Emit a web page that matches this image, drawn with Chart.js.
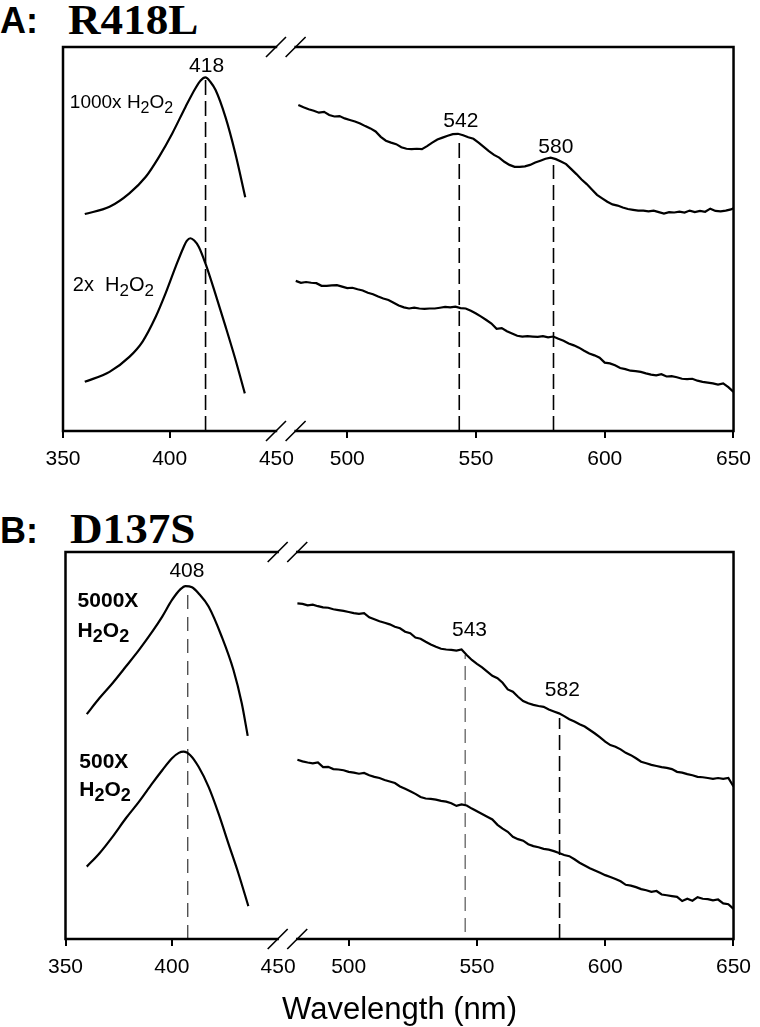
<!DOCTYPE html>
<html>
<head>
<meta charset="utf-8">
<script src="https://cdn.jsdelivr.net/npm/chart.js@4/dist/chart.umd.min.js"></script>
<style>
  html, body { margin: 0; padding: 0; background: #fff; width: 760px; height: 1027px; overflow: hidden; }
  .t { position: absolute; white-space: nowrap; color: #000; line-height: 1; transform-origin: left top; }
  .tag { font: bold 36px "Liberation Sans", Arial, sans-serif; }
  .mut { font: bold 43px "Liberation Serif", "Times New Roman", serif; transform: scaleX(1.05); }
  canvas { position: absolute; left: 0; }
</style>
</head>
<body>
<div class="t tag" style="left:0; top:0px">A:</div>
<div class="t mut" style="left:68px; top:-5px">R418L</div>
<div class="t tag" style="left:0; top:510px">B:</div>
<div class="t mut" style="left:70px; top:504px">D137S</div>
<canvas id="panelA" width="760" height="480" style="top:0"></canvas>
<canvas id="panelB" width="760" height="530" style="top:505px"></canvas>
<script>
// Two UV-vis panels on a broken wavelength axis (Soret | Q-band region).
// Absorbance is in arbitrary units (0-100 of the plot height); no y ticks.

const SANS = '"Liberation Sans", Arial, sans-serif';

// ---- axis ----
const tickWl = [350, 400, 450, 500, 550, 600, 650];

// ---- panel A: R418L, Soret region ----
const aTopSoretWl = [360.2, 371.8, 381.1, 388.8, 395.0, 401.2, 407.4, 412.0, 414.5, 416.7, 419.1, 421.5, 426.1, 430.7, 435.4];
const aTopSoret = [56.5, 58.4, 61.9, 66.2, 71.4, 77.5, 84.4, 89.2, 91.3, 92.1, 90.9, 88.8, 81.8, 72.4, 60.9];
const aLowSoretWl = [360.2, 371.8, 381.1, 387.3, 393.5, 398.1, 402.8, 406.6, 408.0, 409.7, 411.5, 413.6, 416.7, 421.3, 426.0, 430.6, 435.2];
const aLowSoret = [12.8, 15.4, 19.3, 23.3, 29.8, 35.9, 42.8, 48.0, 49.5, 50.2, 49.6, 48.0, 43.7, 35.9, 27.5, 19.0, 9.8];

// ---- panel A: Q-band region ----
const aTopQWl = [481, 483, 485, 487, 489, 491, 493, 495, 497, 499,
  501, 503, 505, 507, 509, 511, 513, 515, 517, 519,
  521, 523, 525, 527, 529, 531, 533, 535, 537, 539,
  541, 543, 545, 547, 549, 551, 553, 555, 557, 559,
  561, 563, 565, 567, 569, 571, 573, 575, 577, 579,
  581, 583, 585, 587, 589, 591, 593, 595, 597, 599,
  601, 603, 605, 607, 609, 611, 613, 615, 617, 619,
  621, 623, 625, 627, 629, 631, 633, 635, 637, 639,
  641, 643, 645, 647, 649, 650];
const aTopQ = [84.9, 84.3, 83.8, 83.4, 82.9, 83.1, 82.3, 81.9, 82.0, 81.4,
  81.0, 80.6, 80.1, 79.4, 78.8, 78.0, 76.6, 75.6, 75.1, 74.7,
  73.9, 73.5, 73.4, 73.5, 73.4, 74.2, 75.1, 75.9, 76.4, 76.9,
  77.3, 77.4, 77.0, 76.5, 76.1, 75.1, 74.0, 72.9, 71.9, 71.2,
  70.1, 69.3, 68.8, 68.8, 68.9, 69.3, 69.9, 70.4, 70.9, 71.2,
  70.8, 70.2, 69.5, 68.2, 66.9, 65.5, 64.3, 62.9, 61.5, 60.6,
  59.7, 59.0, 58.7, 58.2, 57.8, 57.6, 57.4, 57.4, 57.2, 57.4,
  57.0, 56.6, 57.0, 56.9, 57.1, 56.9, 57.4, 57.0, 57.3, 57.1,
  57.9, 57.3, 57.2, 57.4, 57.7, 58.0];

const qWl = [480, 482, 484, 486, 488, 490, 492, 494, 496, 498,
  500, 502, 504, 506, 508, 510, 512, 514, 516, 518,
  520, 522, 524, 526, 528, 530, 532, 534, 536, 538,
  540, 542, 544, 546, 548, 550, 552, 554, 556, 558,
  560, 562, 564, 566, 568, 570, 572, 574, 576, 578,
  580, 582, 584, 586, 588, 590, 592, 594, 596, 598,
  600, 602, 604, 606, 608, 610, 612, 614, 616, 618,
  620, 622, 624, 626, 628, 630, 632, 634, 636, 638,
  640, 642, 644, 646, 648, 650];
const aLowQ = [39.1, 38.6, 38.8, 38.6, 38.5, 37.8, 37.8, 37.9, 38.0, 37.6,
  37.2, 37.3, 36.9, 36.6, 36.0, 35.6, 35.0, 34.5, 34.1, 33.4,
  32.7, 32.2, 31.9, 32.1, 31.9, 31.8, 31.9, 31.9, 32.1, 32.3,
  32.2, 32.4, 32.0, 31.9, 31.3, 30.6, 29.8, 28.9, 28.0, 26.6,
  26.8, 26.0, 25.4, 24.8, 24.6, 24.7, 24.6, 24.5, 24.7, 24.4,
  24.6, 24.0, 23.5, 22.8, 22.3, 21.7, 20.9, 20.2, 19.7, 19.1,
  17.8, 17.6, 17.1, 16.4, 16.1, 15.7, 15.6, 15.4, 15.0, 14.7,
  14.5, 14.8, 14.2, 14.3, 14.0, 13.6, 13.5, 13.6, 13.1, 12.8,
  12.6, 12.4, 12.1, 12.4, 11.4, 10.2];

// ---- panel B: D137S ----
const bTopSoretWl = [360.0, 365.9, 372.1, 378.4, 384.6, 390.8, 395.5, 400.1, 404.1, 406.4, 409.5, 412.6, 417.3, 423.5, 429.0, 432.9, 435.7];
const bTopSoret = [58.1, 62.2, 66.1, 70.4, 74.7, 79.4, 83.3, 87.6, 90.4, 91.2, 90.9, 89.3, 85.9, 78.1, 69.5, 60.9, 52.5];
const bLowSoretWl = [360.0, 365.9, 372.1, 378.4, 384.6, 390.8, 395.5, 400.1, 403.3, 405.6, 408.7, 412.6, 417.3, 422.0, 426.6, 431.3, 436.0];
const bLowSoret = [18.7, 22.1, 26.4, 31.2, 35.5, 40.2, 43.6, 46.7, 48.1, 48.4, 47.5, 44.5, 39.3, 32.4, 24.7, 17.0, 8.5];

const bTopQ = [86.7, 86.6, 86.2, 86.4, 86.0, 85.7, 85.6, 85.2, 85.0, 84.8,
  84.5, 84.2, 84.0, 84.2, 83.1, 82.6, 82.1, 81.7, 81.3, 80.7,
  80.3, 79.4, 79.0, 77.9, 77.6, 76.8, 76.1, 75.5, 75.0, 74.8,
  74.7, 74.5, 74.8, 73.4, 72.1, 71.1, 70.2, 69.1, 68.0, 67.4,
  66.2, 64.5, 63.9, 62.6, 61.5, 60.9, 60.5, 60.2, 60.0, 59.3,
  58.8, 58.3, 57.6, 56.8, 56.2, 55.5, 54.9, 54.0, 53.1, 52.1,
  51.0, 50.1, 49.7, 49.0, 48.1, 47.5, 46.7, 45.8, 45.4, 45.0,
  44.7, 44.4, 44.2, 43.9, 43.2, 43.0, 42.6, 42.3, 41.9, 41.8,
  41.6, 41.4, 41.6, 41.4, 41.6, 39.4];
const bLowQ = [46.3, 45.9, 45.6, 45.4, 45.6, 44.4, 44.5, 43.9, 43.8, 43.6,
  43.2, 43.0, 42.7, 42.9, 42.3, 41.9, 41.6, 41.1, 40.7, 40.3,
  39.4, 38.8, 38.2, 37.5, 36.7, 36.3, 36.2, 36.0, 35.7, 35.5,
  35.1, 34.4, 34.8, 34.5, 33.7, 33.0, 32.3, 31.6, 30.9, 29.5,
  28.5, 27.7, 26.4, 25.8, 25.4, 24.5, 24.0, 23.7, 23.3, 23.1,
  22.7, 22.2, 21.7, 21.4, 20.6, 19.7, 19.0, 18.3, 17.7, 17.1,
  16.5, 16.0, 15.5, 14.9, 14.0, 13.8, 13.4, 12.9, 12.6, 12.2,
  12.4, 11.5, 11.3, 11.1, 10.9, 9.8, 10.4, 9.9, 10.8, 10.4,
  10.3, 10.0, 10.2, 9.2, 9.0, 7.8];

// ---- peak markers (dashed drop lines) and labels ----
const aMarkWl = [416.8, 543.5, 580.1];
const aMarkTop = [91.4, 76.3, 69.3];
const aPeakText = ['418', '542', '580'];
const aPeakWl = [417.3, 544.1, 581.0];
const aPeakVal = [93.6, 79.2, 72.4];
const aDoseText = ['1000x H_2O_2', '2x  H_2O_2'];
const aDoseWl = [353.2, 354.6];
const aDoseVal = [84.0, 36.5];

const bMarkWl = [407.5, 545.4, 582.2];
const bMarkTop = [90.7, 73.4, 57.1];
const bMarkBottom = [0, 1.8, 0];
const bPeakText = ['408', '543', '582'];
const bPeakWl = [407.1, 547.1, 583.3];
const bPeakVal = [93.5, 78.3, 62.8];
const bDoseText = ['5000X', 'H_2O_2', '500X', 'H_2O_2'];
const bDoseWl = [355.7, 355.7, 356.5, 356.5];
const bDoseVal = [85.9, 78.1, 44.1, 37.0];

// Broken axis: 350-450 at native scale, 500-650 squeezed in after the break.
const BREAK_U = [449.8, 459.0];
const U_MAX = 664.2;
const toU = (wl) => (wl <= 455 ? wl : 483.2 + (wl - 500) * 1.2065);
const pts = (wls, vals) => wls.map((w, i) => ({ x: toU(w), y: vals[i] }));

const curve = (wls, vals, smooth) => ({
  data: pts(wls, vals), borderColor: '#000', borderWidth: 2.2, pointRadius: 0, fill: false,
  tension: 0, cubicInterpolationMode: smooth ? 'monotone' : 'default',
});
const dropLine = (wl, top, bottom, color, width, dash) => ({
  data: pts([wl, wl], [bottom, top]), borderColor: color, borderWidth: width,
  borderDash: dash, pointRadius: 0, fill: false,
});

// "H_2O_2" -> runs with subscripted digits
function runs(text) {
  const out = [];
  text.split(/(_\d)/).forEach((p) => {
    if (!p) return;
    if (p[0] === '_') out.push({ t: p.slice(1), sub: true });
    else out.push({ t: p, sub: false });
  });
  return out;
}

const notesPlugin = {
  id: 'notes',
  afterDatasetsDraw(chart, args, opts) {
    const { ctx, scales: { x, y } } = chart;
    ctx.save();
    ctx.fillStyle = '#000';
    ctx.textBaseline = 'alphabetic';
    for (const n of opts.items) {
      const parts = runs(n.text);
      const font = (p) => `${n.weight} ${p.sub ? Math.round(n.size * 0.86) : n.size}px ${SANS}`;
      let w = 0;
      for (const p of parts) { ctx.font = font(p); w += ctx.measureText(p.t).width; }
      let px = x.getPixelForValue(toU(n.wl));
      if (n.align === 'center') px -= w / 2;
      const py = y.getPixelForValue(n.val);
      for (const p of parts) {
        ctx.font = font(p);
        ctx.fillText(p.t, px, p.sub ? py + 5 : py);
        px += ctx.measureText(p.t).width;
      }
    }
    ctx.restore();
  },
};

// Box frame with the axis-break slashes on top and bottom.
const framePlugin = {
  id: 'frame',
  afterDraw(chart) {
    const { ctx, chartArea: a, scales: { x } } = chart;
    const b1 = x.getPixelForValue(BREAK_U[0]);
    const b2 = x.getPixelForValue(BREAK_U[1]);
    ctx.save();
    ctx.strokeStyle = '#000';
    ctx.lineWidth = 2.5;
    ctx.lineCap = 'square';
    ctx.beginPath();
    ctx.moveTo(a.left, a.top); ctx.lineTo(a.left, a.bottom);
    ctx.moveTo(a.right, a.top); ctx.lineTo(a.right, a.bottom);
    for (const yy of [a.top, a.bottom]) {
      ctx.moveTo(a.left, yy); ctx.lineTo(b1, yy);
      ctx.moveTo(b2, yy); ctx.lineTo(a.right, yy);
    }
    ctx.stroke();
    ctx.lineWidth = 1.6;
    ctx.lineCap = 'butt';
    ctx.beginPath();
    for (const yy of [a.top, a.bottom]) {
      for (const bx of [b1, b2]) { ctx.moveTo(bx - 10, yy + 10); ctx.lineTo(bx + 10, yy - 10); }
    }
    ctx.stroke();
    ctx.restore();
  },
};

function panel(id, datasets, notes, pad, axisH, title) {
  return new Chart(document.getElementById(id), {
    type: 'line',
    data: { datasets },
    options: {
      responsive: false,
      animation: false,
      devicePixelRatio: 1,
      layout: { padding: pad },
      plugins: { legend: { display: false }, tooltip: { enabled: false }, notes: { items: notes } },
      scales: {
        x: {
          type: 'linear', min: 350, max: U_MAX,
          afterBuildTicks: (s) => { s.ticks = tickWl.map((w) => ({ value: toU(w) })); },
          afterFit: (s) => { s.height = axisH; },
          ticks: {
            autoSkip: false, maxRotation: 0, padding: 9, color: '#000',
            font: { family: SANS, size: 21 },
            callback: (v, i) => String(tickWl[i]),
          },
          grid: {
            drawOnChartArea: false, drawTicks: true, tickLength: 7, lineWidth: 2,
            color: (c) => (c.tick && c.tick.value === 450 ? 'rgba(0,0,0,0)' : '#000'),
          },
          border: { display: false },
          title: title
            ? { display: true, text: title, color: '#000', font: { family: SANS, size: 31 }, padding: { top: 0, bottom: 6 } }
            : { display: false },
        },
        y: { display: false, min: 0, max: 100 },
      },
    },
    plugins: [framePlugin, notesPlugin],
  });
}

const dash = [15, 6];

const aNotes = [
  ...aPeakText.map((t, i) => ({ text: t, wl: aPeakWl[i], val: aPeakVal[i], size: 21, weight: 'normal', align: 'center' })),
  ...aDoseText.map((t, i) => ({ text: t, wl: aDoseWl[i], val: aDoseVal[i], size: i ? 20 : 19, weight: 'normal', align: 'left' })),
];
const bNotes = [
  ...bPeakText.map((t, i) => ({ text: t, wl: bPeakWl[i], val: bPeakVal[i], size: 21, weight: 'normal', align: 'center' })),
  ...bDoseText.map((t, i) => ({ text: t, wl: bDoseWl[i], val: bDoseVal[i], size: 21, weight: 'bold', align: 'left' })),
];

panel('panelA', [
  curve(aTopSoretWl, aTopSoret, true),
  curve(aLowSoretWl, aLowSoret, true),
  curve(aTopQWl, aTopQ, false),
  curve(qWl, aLowQ, false),
  ...aMarkWl.map((w, i) => dropLine(w, aMarkTop[i], 0, '#000', 1.6, dash)),
], aNotes, { top: 47, left: 63, right: 20, bottom: 0 }, 49, null);

panel('panelB', [
  curve(bTopSoretWl, bTopSoret, true),
  curve(bLowSoretWl, bLowSoret, true),
  curve(qWl, bTopQ, false),
  curve(qWl, bLowQ, false),
  dropLine(bMarkWl[0], bMarkTop[0], bMarkBottom[0], '#333', 1.2, [14, 8]),
  dropLine(bMarkWl[1], bMarkTop[1], bMarkBottom[1], '#444', 1.1, [14, 7]),
  dropLine(bMarkWl[2], bMarkTop[2], bMarkBottom[2], '#000', 1.6, dash),
], bNotes, { top: 47, left: 65.5, right: 17.5, bottom: 0 }, 96, 'Wavelength (nm)');
</script>
</body>
</html>
